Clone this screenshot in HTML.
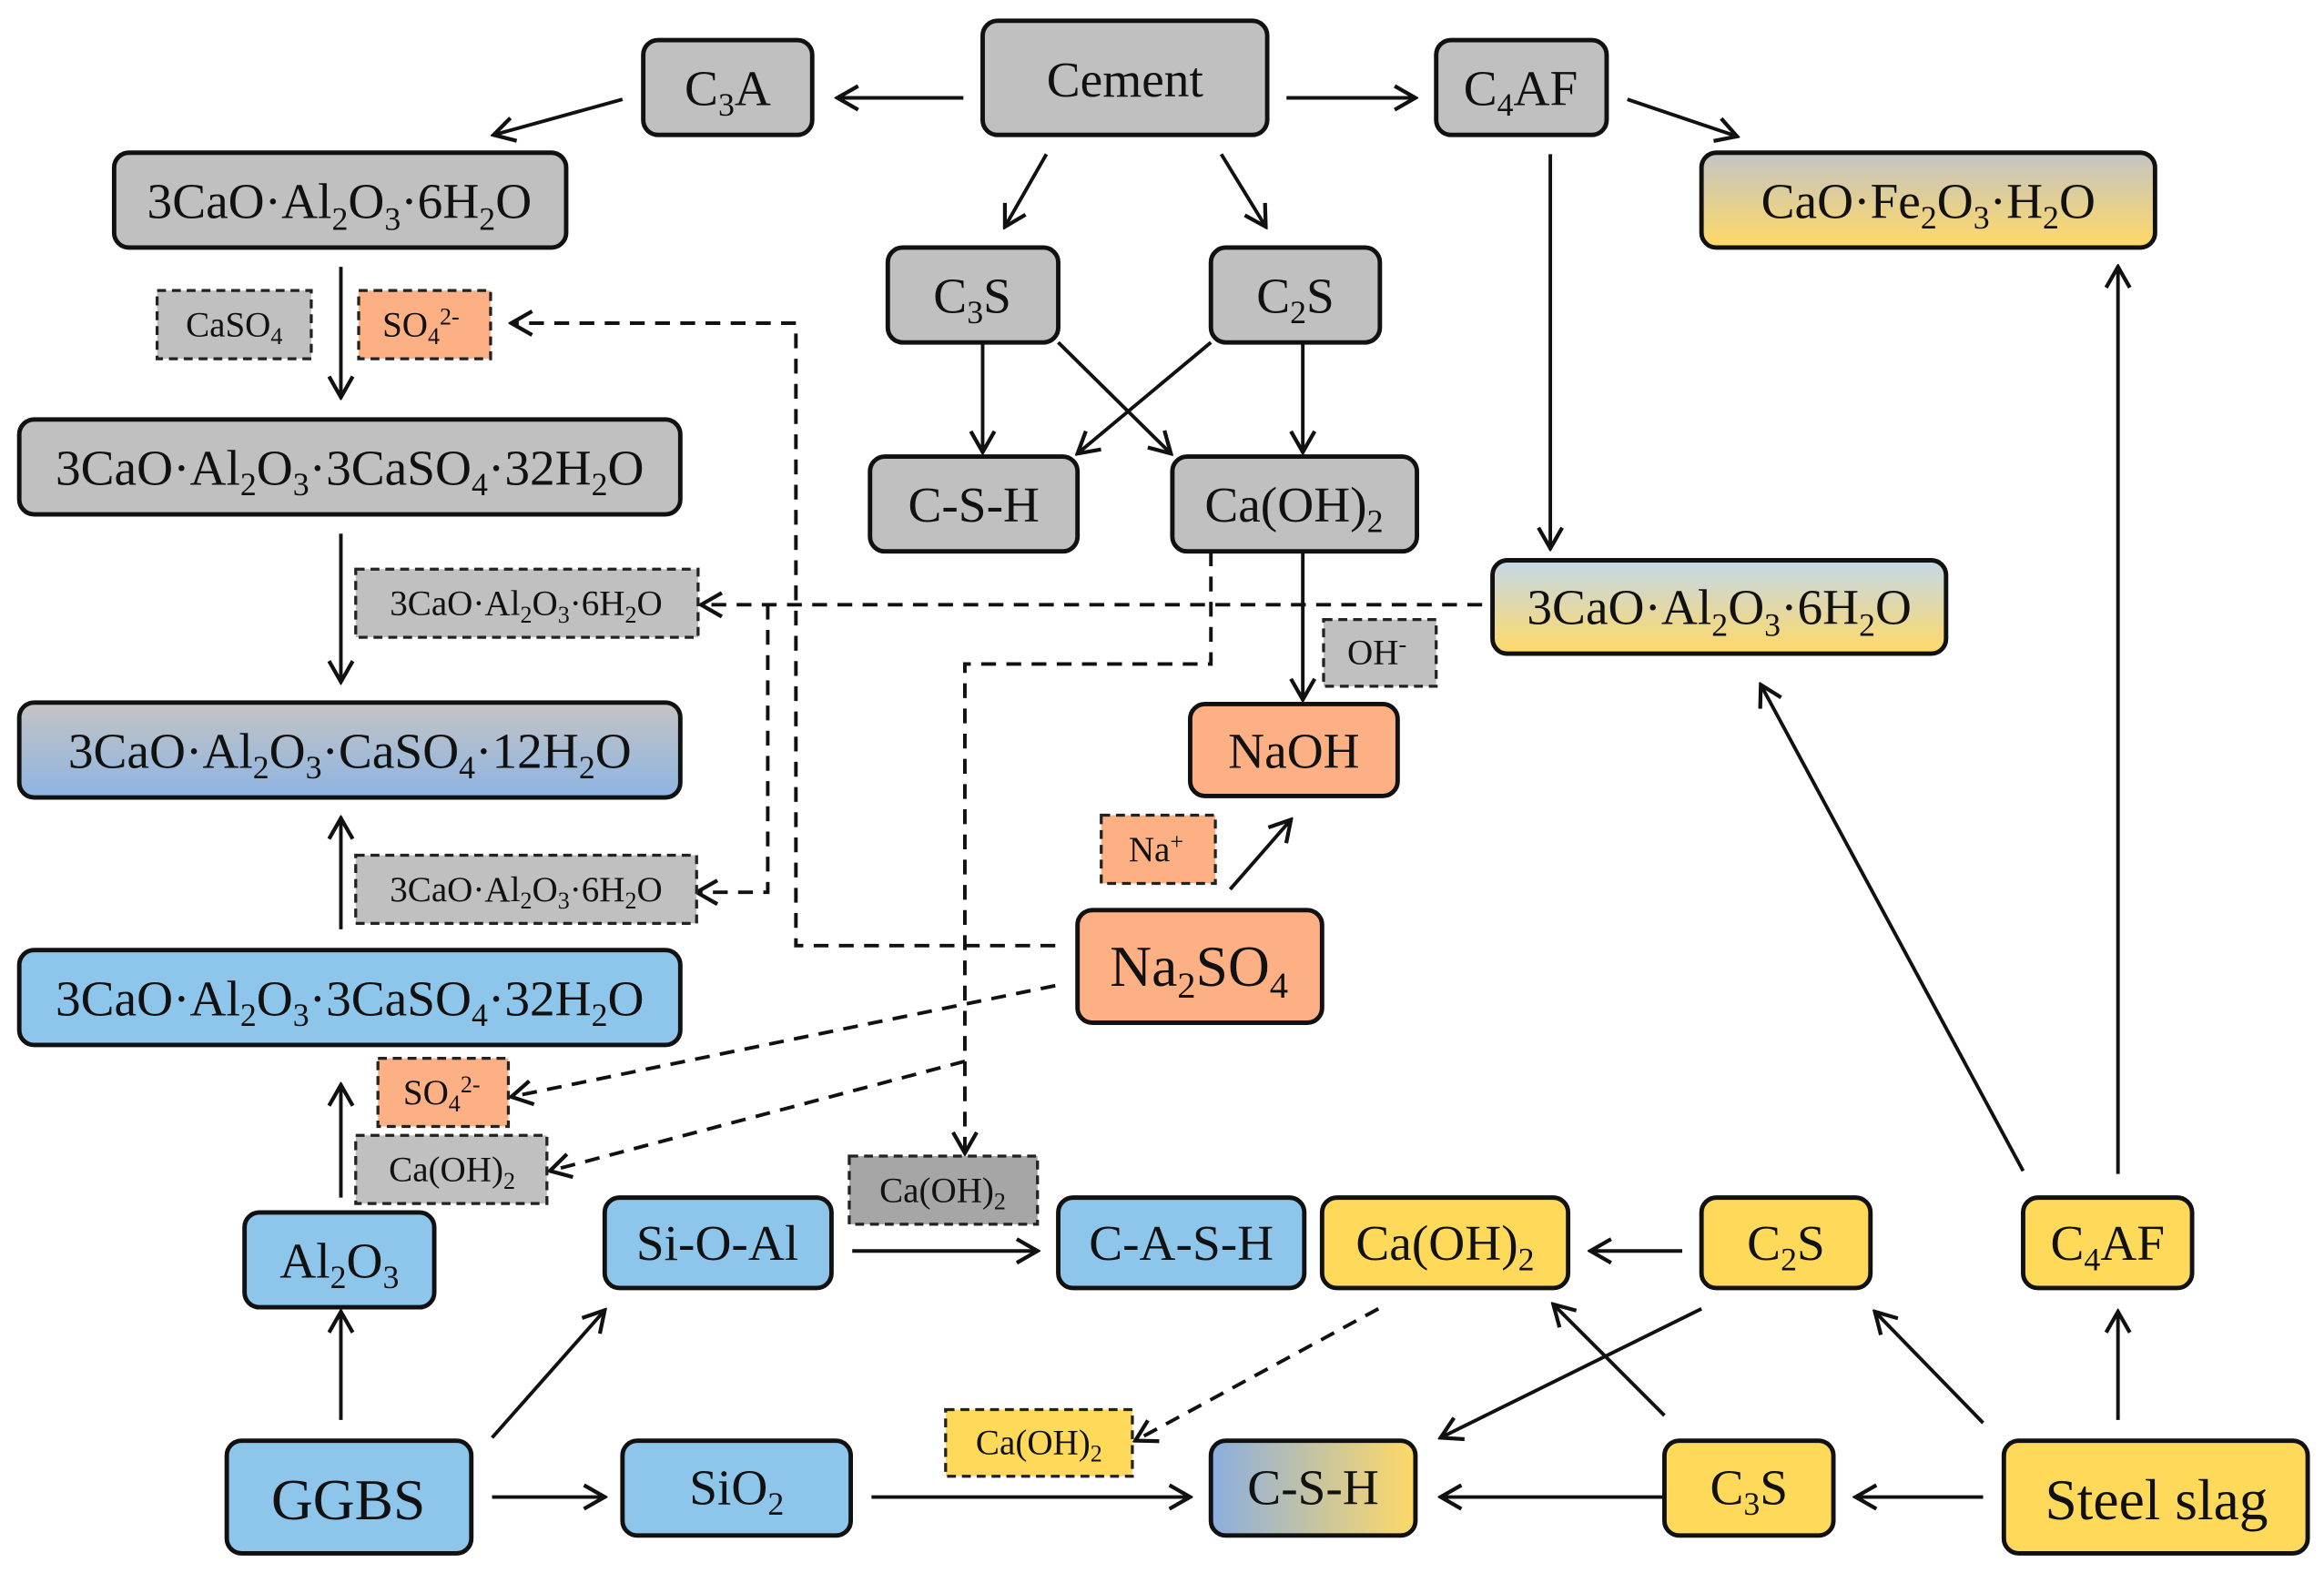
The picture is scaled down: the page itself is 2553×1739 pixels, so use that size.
<!DOCTYPE html>
<html><head><meta charset="utf-8"><style>
html,body{margin:0;padding:0;background:#fff;}
svg{display:block;}
text{font-family:"Liberation Serif",serif;fill:#111;}
.m{font-size:34px;}
.d{font-size:24px;}
.b{font-size:39px;}
.box{stroke:#111;stroke-width:3;}
.dash{stroke:#222;stroke-width:2;stroke-dasharray:6,4;}
.ln{stroke:#111;stroke-width:2.4;fill:none;}
.dl{stroke:#111;stroke-width:2.4;fill:none;stroke-dasharray:10,7;}
</style></head><body>
<svg width="2553" height="1739" viewBox="0 0 1568 1068" xmlns="http://www.w3.org/2000/svg">
<defs>
<marker id="a" viewBox="0 0 20 20" refX="18" refY="10" markerWidth="20" markerHeight="20" markerUnits="userSpaceOnUse" orient="auto">
<path d="M4,2 L18,10 L4,18" fill="none" stroke="#111" stroke-width="2.6"/>
</marker>
<linearGradient id="gy" x1="0" y1="0" x2="0" y2="1"><stop offset="0" stop-color="#c4c4c4"/><stop offset="1" stop-color="#ffd966"/></linearGradient>
<linearGradient id="by" x1="0" y1="0" x2="0" y2="1"><stop offset="0" stop-color="#c4d8ea"/><stop offset="1" stop-color="#ffd966"/></linearGradient>
<linearGradient id="gb" x1="0" y1="0" x2="0" y2="1"><stop offset="0" stop-color="#c4c4c4"/><stop offset="1" stop-color="#8db4e2"/></linearGradient>
<linearGradient id="bh" x1="0" y1="0" x2="1" y2="0"><stop offset="0" stop-color="#8aaee0"/><stop offset="1" stop-color="#ffd966"/></linearGradient>
</defs>

<g class="ln" marker-end="url(#a)">
<line x1="650" y1="66" x2="565" y2="66"/>
<line x1="420" y1="67" x2="333" y2="91"/>
<line x1="868" y1="66" x2="955" y2="66"/>
<line x1="1098" y1="67" x2="1172" y2="92"/>
<line x1="706" y1="104" x2="678" y2="153"/>
<line x1="824" y1="104" x2="854" y2="153"/>
<line x1="1046" y1="104" x2="1046" y2="370"/>
<line x1="1429" y1="792" x2="1429" y2="180"/>
<line x1="1365" y1="790" x2="1188" y2="462"/>
<line x1="230" y1="180" x2="230" y2="268"/>
<line x1="230" y1="360" x2="230" y2="460"/>
<line x1="230" y1="627" x2="230" y2="552"/>
<line x1="230" y1="808" x2="230" y2="732"/>
<line x1="230" y1="958" x2="230" y2="885"/>
<line x1="663" y1="231" x2="663" y2="305"/>
<line x1="879" y1="231" x2="879" y2="305"/>
<line x1="714" y1="231" x2="790" y2="306"/>
<line x1="817" y1="231" x2="727" y2="306"/>
<line x1="879" y1="372" x2="879" y2="472"/>
<line x1="830" y1="600" x2="871" y2="553"/>
<line x1="575" y1="844" x2="700" y2="844"/>
<line x1="1135" y1="844" x2="1073" y2="844"/>
<line x1="332" y1="970" x2="408" y2="884"/>
<line x1="332" y1="1010" x2="408" y2="1010"/>
<line x1="588" y1="1010" x2="803" y2="1010"/>
<line x1="1123" y1="1010" x2="972" y2="1010"/>
<line x1="1338" y1="1010" x2="1252" y2="1010"/>
<line x1="1338" y1="960" x2="1265" y2="885"/>
<line x1="1429" y1="958" x2="1429" y2="885"/>
<line x1="1123" y1="955" x2="1048" y2="880"/>
<line x1="1148" y1="883" x2="972" y2="970"/>
</g>
<g class="dl">
<polyline points="712,638 537,638 537,218 345,218" marker-end="url(#a)"/>
<line x1="1000" y1="408" x2="473" y2="408" marker-end="url(#a)"/>
<polyline points="518,408 518,602 470,602" marker-end="url(#a)"/>
<polyline points="817,372 817,448 651,448 651,778" marker-end="url(#a)"/>
<polyline points="651,716 371,790" marker-end="url(#a)"/>
<line x1="712" y1="665" x2="345" y2="740" marker-end="url(#a)"/>
<line x1="930" y1="883" x2="766" y2="972" marker-end="url(#a)"/>
</g>

<g class="box">
<rect x="663" y="14" width="192" height="77" rx="10" fill="#c0c0c0"/>
<rect x="434" y="27" width="114" height="64" rx="10" fill="#c0c0c0"/>
<rect x="969" y="27" width="115" height="64" rx="10" fill="#c0c0c0"/>
<rect x="77" y="103" width="305" height="64" rx="10" fill="#c0c0c0"/>
<rect x="1148" y="103" width="306" height="64" rx="10" fill="url(#gy)"/>
<rect x="599" y="167" width="115" height="64" rx="10" fill="#c0c0c0"/>
<rect x="817" y="167" width="114" height="64" rx="10" fill="#c0c0c0"/>
<rect x="13" y="283" width="446" height="64" rx="10" fill="#c0c0c0"/>
<rect x="587" y="308" width="140" height="64" rx="10" fill="#c0c0c0"/>
<rect x="791" y="308" width="165" height="64" rx="10" fill="#c0c0c0"/>
<rect x="1007" y="378" width="306" height="63" rx="10" fill="url(#by)"/>
<rect x="803" y="475" width="140" height="62" rx="10" fill="#fdb083"/>
<rect x="13" y="474" width="446" height="64" rx="10" fill="url(#gb)"/>
<rect x="727" y="614" width="165" height="76" rx="10" fill="#fdb083"/>
<rect x="13" y="641" width="446" height="64" rx="10" fill="#8ec5ea"/>
<rect x="165" y="818" width="128" height="64" rx="10" fill="#8ec5ea"/>
<rect x="408" y="808" width="153" height="61" rx="10" fill="#8ec5ea"/>
<rect x="714" y="808" width="166" height="61" rx="10" fill="#8ec5ea"/>
<rect x="892" y="808" width="166" height="61" rx="10" fill="#ffd95a"/>
<rect x="1148" y="808" width="114" height="61" rx="10" fill="#ffd95a"/>
<rect x="1365" y="808" width="114" height="61" rx="10" fill="#ffd95a"/>
<rect x="153" y="972" width="165" height="76" rx="10" fill="#8ec5ea"/>
<rect x="420" y="972" width="154" height="64" rx="10" fill="#8ec5ea"/>
<rect x="817" y="972" width="138" height="64" rx="10" fill="url(#bh)"/>
<rect x="1123" y="972" width="114" height="64" rx="10" fill="#ffd95a"/>
<rect x="1352" y="972" width="205" height="76" rx="10" fill="#ffd95a"/>
</g>
<g class="dash">
<rect x="106" y="196" width="104" height="46" fill="#c0c0c0"/>
<rect x="242" y="196" width="89" height="46" fill="#fdb083"/>
<rect x="240" y="384" width="231" height="46" fill="#c0c0c0"/>
<rect x="893" y="418" width="76" height="45" fill="#c0c0c0"/>
<rect x="743" y="550" width="77" height="46" fill="#fdb083"/>
<rect x="240" y="577" width="230" height="46" fill="#c0c0c0"/>
<rect x="255" y="714" width="88" height="46" fill="#fdb083"/>
<rect x="240" y="766" width="129" height="46" fill="#c0c0c0"/>
<rect x="573" y="780" width="127" height="46" fill="#a6a6a6"/>
<rect x="638" y="951" width="126" height="45" fill="#ffd95a"/>
</g>

<g text-anchor="middle">
<text class="m" x="759" y="65" font-size="38">Cement</text>
<text class="m" x="491" y="71">C<tspan dy="7" font-size="22">3</tspan><tspan dy="-7">A</tspan></text>
<text class="m" x="1026" y="71">C<tspan dy="7" font-size="22">4</tspan><tspan dy="-7">AF</tspan></text>
<text class="m" x="229" y="147">3CaO·Al<tspan dy="8" font-size="22">2</tspan><tspan dy="-8">O</tspan><tspan dy="8" font-size="22">3</tspan><tspan dy="-8">·6H</tspan><tspan dy="8" font-size="22">2</tspan><tspan dy="-8">O</tspan></text>
<text class="m" x="1301" y="147">CaO·Fe<tspan dy="7" font-size="22">2</tspan><tspan dy="-7">O</tspan><tspan dy="7" font-size="22">3</tspan><tspan dy="-7">·H</tspan><tspan dy="7" font-size="22">2</tspan><tspan dy="-7">O</tspan></text>
<text class="m" x="656" y="211">C<tspan dy="7" font-size="22">3</tspan><tspan dy="-7">S</tspan></text>
<text class="m" x="874" y="211">C<tspan dy="7" font-size="22">2</tspan><tspan dy="-7">S</tspan></text>
<text class="m" x="236" y="327">3CaO·Al<tspan dy="7" font-size="22">2</tspan><tspan dy="-7">O</tspan><tspan dy="7" font-size="22">3</tspan><tspan dy="-7">·3CaSO</tspan><tspan dy="7" font-size="22">4</tspan><tspan dy="-7">·32H</tspan><tspan dy="7" font-size="22">2</tspan><tspan dy="-7">O</tspan></text>
<text class="m" x="657" y="352">C-S-H</text>
<text class="m" x="873" y="352">Ca(OH)<tspan dy="7" font-size="22">2</tspan></text>
<text class="m" x="1160" y="421">3CaO·Al<tspan dy="8" font-size="22">2</tspan><tspan dy="-8">O</tspan><tspan dy="8" font-size="22">3</tspan><tspan dy="-8">·6H</tspan><tspan dy="8" font-size="22">2</tspan><tspan dy="-8">O</tspan></text>
<text class="m" x="873" y="518">NaOH</text>
<text class="m" x="236" y="518">3CaO·Al<tspan dy="7" font-size="22">2</tspan><tspan dy="-7">O</tspan><tspan dy="7" font-size="22">3</tspan><tspan dy="-7">·CaSO</tspan><tspan dy="7" font-size="22">4</tspan><tspan dy="-7">·12H</tspan><tspan dy="7" font-size="22">2</tspan><tspan dy="-7">O</tspan></text>
<text class="b" x="809" y="665">Na<tspan dy="8" font-size="25">2</tspan><tspan dy="-8">SO</tspan><tspan dy="8" font-size="25">4</tspan></text>
<text class="m" x="236" y="685">3CaO·Al<tspan dy="7" font-size="22">2</tspan><tspan dy="-7">O</tspan><tspan dy="7" font-size="22">3</tspan><tspan dy="-7">·3CaSO</tspan><tspan dy="7" font-size="22">4</tspan><tspan dy="-7">·32H</tspan><tspan dy="7" font-size="22">2</tspan><tspan dy="-7">O</tspan></text>
<text class="m" x="229" y="862">Al<tspan dy="7" font-size="22">2</tspan><tspan dy="-7">O</tspan><tspan dy="7" font-size="22">3</tspan></text>
<text class="m" x="484" y="850">Si-O-Al</text>
<text class="m" x="797" y="850">C-A-S-H</text>
<text class="m" x="975" y="850">Ca(OH)<tspan dy="7" font-size="22">2</tspan></text>
<text class="m" x="1205" y="850">C<tspan dy="7" font-size="22">2</tspan><tspan dy="-7">S</tspan></text>
<text class="m" x="1422" y="850">C<tspan dy="7" font-size="22">4</tspan><tspan dy="-7">AF</tspan></text>
<text class="b" x="235" y="1025">GGBS</text>
<text class="m" x="497" y="1015">SiO<tspan dy="7" font-size="22">2</tspan></text>
<text class="m" x="886" y="1015">C-S-H</text>
<text class="m" x="1180" y="1015">C<tspan dy="7" font-size="22">3</tspan><tspan dy="-7">S</tspan></text>
<text class="b" x="1455" y="1025">Steel slag</text>
</g>
<g text-anchor="middle">
<text class="d" x="158" y="227">CaSO<tspan dy="5" font-size="16">4</tspan></text>
<text class="d" x="284" y="227">SO<tspan dy="5" font-size="16">4</tspan><tspan dy="-13" font-size="16">2-</tspan></text>
<text class="d" x="355" y="415">3CaO·Al<tspan dy="5" font-size="16">2</tspan><tspan dy="-5">O</tspan><tspan dy="5" font-size="16">3</tspan><tspan dy="-5">·6H</tspan><tspan dy="5" font-size="16">2</tspan><tspan dy="-5">O</tspan></text>
<text class="d" x="929" y="448">OH<tspan dy="-8" font-size="16">-</tspan></text>
<text class="d" x="780" y="581">Na<tspan dy="-8" font-size="16">+</tspan></text>
<text class="d" x="355" y="608">3CaO·Al<tspan dy="5" font-size="16">2</tspan><tspan dy="-5">O</tspan><tspan dy="5" font-size="16">3</tspan><tspan dy="-5">·6H</tspan><tspan dy="5" font-size="16">2</tspan><tspan dy="-5">O</tspan></text>
<text class="d" x="298" y="745">SO<tspan dy="5" font-size="16">4</tspan><tspan dy="-13" font-size="16">2-</tspan></text>
<text class="d" x="305" y="797">Ca(OH)<tspan dy="5" font-size="16">2</tspan></text>
<text class="d" x="636" y="811">Ca(OH)<tspan dy="5" font-size="16">2</tspan></text>
<text class="d" x="701" y="981">Ca(OH)<tspan dy="5" font-size="16">2</tspan></text>
</g>
</svg>
</body></html>
